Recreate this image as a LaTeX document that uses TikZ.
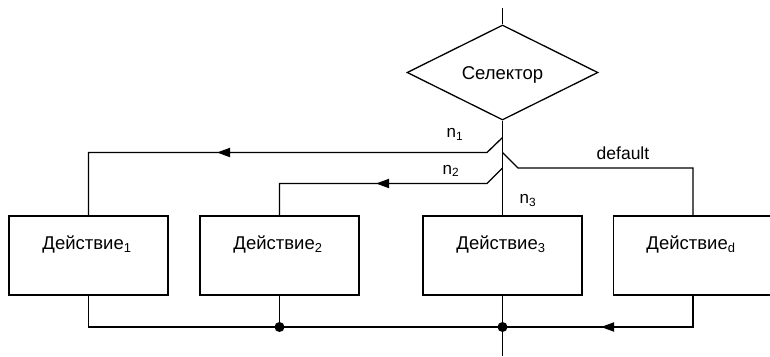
\documentclass[tikz,border=0pt]{standalone}
\usepackage{fontspec}
\setmainfont{Liberation Sans}
\usetikzlibrary{shapes.geometric,arrows.meta}
\tikzset{
  ln/.style={line width=1.3pt, line join=miter},
  actbox/.style={draw, line width=1.3pt, rectangle, minimum width=159pt, minimum height=79pt, inner sep=0pt},
  sel/.style={draw, line width=1.3pt, diamond, minimum width=191pt, minimum height=95pt, inner sep=0pt},
  txt/.style={font=\fontsize{18.5}{22}\selectfont, inner sep=0pt},
  lbl/.style={font=\fontsize{17}{20}\selectfont, inner sep=0pt, anchor=base west},
  arr/.style={line width=1.8pt, -{Triangle[length=13pt,width=9pt]}},
  dot/.style={circle, fill=black, inner sep=0pt, minimum size=10pt}
}
\begin{document}
\begin{tikzpicture}[x=1pt,y=-1pt]
\useasboundingbox (0,0) rectangle (770,356);
% selector
\node[sel] (S) at (502.5,72.5) {};
\node[txt, anchor=base] (St) at (502.5,79.3) {Селектор};
\coordinate (top) at (502.5,8);
\draw[ln] (top) -- (S.north);
% boxes
\node[actbox] (B1) at (88.5,255.5) {};
\node[actbox] (B2) at (279.5,255.5) {};
\node[actbox] (B3) at (502.5,255.5) {};
\node[actbox] (Bd) at (693,255.5) {};
\node[txt, anchor=base] (T1) at (87,249.3) {Действие\textsubscript{1}};
\node[txt, anchor=base] (T2) at (278,249.3) {Действие\textsubscript{2}};
\node[txt, anchor=base] (T3) at (501,249.3) {Действие\textsubscript{3}};
\node[txt, anchor=base] (Td) at (691,249.3) {Действие\textsubscript{d}};
% trunk
\draw[ln] (S.south) -- (B3.north);
% branch points
\coordinate (j1) at (502.5,137.5);
\coordinate (k1) at (487,152.5);
\coordinate (j2) at (502.5,168);
\coordinate (k2) at (487,183.5);
\coordinate (jd) at (502.5,152.5);
\coordinate (kd) at (518,168);
% n1
\draw[ln] (j1) -- (k1) -| (B1.north);
\coordinate (a1s) at (250,152.5);
\coordinate (a1e) at (217,152.5);
\draw[arr] (a1s) -- (a1e);
% n2
\draw[ln] (j2) -- (k2) -| (B2.north);
\coordinate (a2s) at (405,183.5);
\coordinate (a2e) at (376,183.5);
\draw[arr] (a2s) -- (a2e);
% default
\draw[ln] (jd) -- (kd) -| (Bd.north);
% labels
\node[lbl] (L1) at (446.5,137.5) {n\textsubscript{1}};
\node[lbl] (L2) at (442.5,174) {n\textsubscript{2}};
\node[lbl] (L3) at (519.5,203.5) {n\textsubscript{3}};
\node[lbl, font=\fontsize{17.5}{20}\selectfont] (Ld) at (596.5,159.3) {default};
% bottom bus
\node[dot] (D2) at (279.5,327) {};
\node[dot] (D3) at (502.5,327) {};
\coordinate (bot) at (502.5,356);
\draw[ln] (B1.south) |- (D3.center);
\draw[ln] (B2.south) -- (D2.center);
\draw[ln] (B3.south) -- (bot);
\draw[ln] (Bd.south) |- (D3.center);
\coordinate (a3s) at (632,327);
\coordinate (a3e) at (601,327);
\draw[arr] (a3s) -- (a3e);
\end{tikzpicture}
\end{document}
